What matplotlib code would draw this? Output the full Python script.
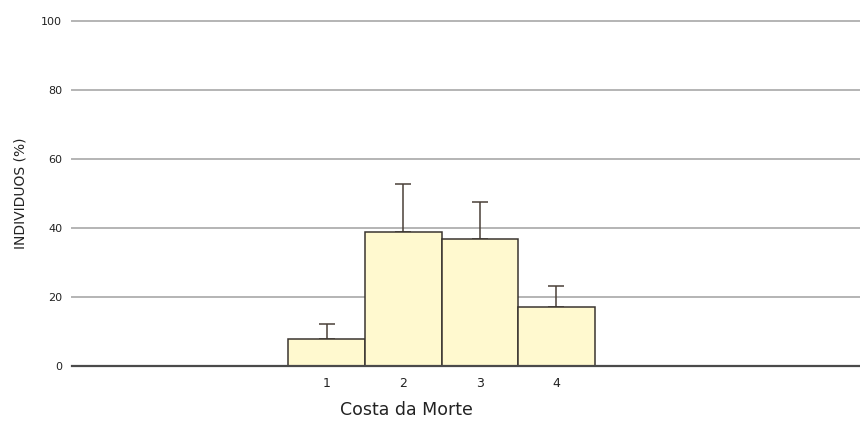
import numpy as np
import matplotlib.pyplot as plt

# Data
categories = [1, 2, 3, 4]
values = [7.7, 38.7, 36.7, 17.2]
err_top = [12.3, 52.8, 47.5, 23.2]
y_ticks = [0, 20, 40, 60, 80, 100]

errors = np.array(err_top) - np.array(values)

fig = plt.figure(figsize=(8.6, 4.37), dpi=100)
ax = fig.add_axes([0.0837, 0.1625, 0.9163, 0.7895])

# grid lines behind the bars
for t in y_ticks[1:]:
    ax.axhline(t, color='#b4b4b4', linewidth=1.4, zorder=0, clip_on=False)
ax.axhline(0, color='#4a4a4a', linewidth=1.6, zorder=3, clip_on=False)

ax.bar(categories, values, width=1.0, color='#fff9cf', edgecolor='#3a3530',
       linewidth=1.1, zorder=2)
ax.errorbar(categories, values, yerr=[np.zeros_like(errors), errors],
            fmt='none', ecolor='#4a4038', elinewidth=1.1, capsize=5.5,
            capthick=1.1, zorder=1)

ax.set_xlim(-2.33, 7.97)
ax.set_ylim(0, 100)
ax.set_xticks(categories)
ax.set_yticks(y_ticks)
ax.tick_params(axis='both', length=0, labelsize=8, colors='#222222')
ax.tick_params(axis='x', pad=8, labelsize=9)
ax.tick_params(axis='y', pad=7)
for s in ax.spines.values():
    s.set_visible(False)

ax.set_ylabel('INDIVIDUOS (%)', fontsize=10, color='#222222')
ax.yaxis.set_label_coords(-0.056, 0.5)
ax.set_xlabel('Costa da Morte', fontsize=12.5, color='#222222', va='center')
ax.xaxis.set_label_coords(0.425, -0.128)

fig.savefig('out.png', dpi=100)
